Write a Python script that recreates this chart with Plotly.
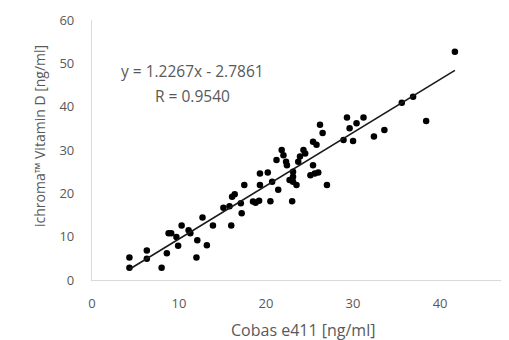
import plotly.graph_objects as go

cobas = [4.3, 4.3, 6.3, 6.3, 8.0, 8.6, 8.8, 9.1, 9.7, 9.9, 10.3, 11.1, 11.3, 12.0, 12.1, 12.7,
         13.2, 13.9, 15.1, 15.8, 16.0, 16.1, 16.4, 17.1, 17.2, 17.5, 18.5, 18.8, 19.2, 19.3,
         19.3, 20.2, 20.5, 20.7, 21.2, 21.4, 21.8, 22.0, 22.3, 22.4, 22.7, 23.0, 23.1, 23.1,
         23.1, 23.5, 23.7, 23.9, 24.3, 24.5, 25.1, 25.4, 25.4, 25.6, 25.8, 26.0, 26.2, 26.5,
         27.0, 28.9, 29.3, 29.6, 30.0, 30.4, 31.2, 32.4, 33.6, 35.6, 36.9, 38.4, 41.7]
ichroma = [5.2, 2.8, 6.8, 4.9, 2.8, 6.2, 10.8, 10.8, 9.9, 7.9, 12.6, 11.5, 10.8, 5.2, 9.2, 14.4,
           8.0, 12.6, 16.7, 17.0, 12.6, 19.2, 19.8, 17.7, 15.4, 21.9, 18.1, 17.8, 18.3, 21.9,
           24.6, 24.8, 18.2, 22.7, 27.7, 20.8, 30.0, 28.8, 27.3, 26.5, 23.1, 18.2, 25.0, 23.8,
           22.7, 21.9, 27.3, 28.5, 30.0, 29.2, 24.2, 31.9, 26.5, 24.6, 31.2, 24.8, 35.8, 33.9,
           21.9, 32.3, 37.5, 35.0, 32.1, 36.2, 37.5, 33.1, 34.6, 40.9, 42.3, 36.7, 52.7]

slope = 1.2267
intercept = -2.7861
fit_x = [min(cobas), max(cobas)]
fit_y = [slope * v + intercept for v in fit_x]

eq_text = "y = 1.2267x - 2.7861"
r_text = "R = 0.9540"
x_title = "Cobas e411 [ng/ml]"
y_title = "ichroma\u2122 Vitamin D [ng/ml]"

FONT = "Open Sans, sans-serif"
GRAY = "#595959"

fig = go.Figure()
fig.add_trace(go.Scatter(x=cobas, y=ichroma, mode="markers",
                         marker=dict(color="black", size=6.5), showlegend=False))
fig.add_trace(go.Scatter(x=fit_x, y=fit_y, mode="lines",
                         line=dict(color="#1a1a1a", width=1.6), showlegend=False))

fig.add_annotation(x=11.6, y=48.3, xref="x", yref="y", text=eq_text, showarrow=False,
                   font=dict(family=FONT, size=15.5, color=GRAY))
fig.add_annotation(x=11.5, y=42.5, xref="x", yref="y", text=r_text, showarrow=False,
                   font=dict(family=FONT, size=15.5, color=GRAY))
fig.add_annotation(x=0.516, y=-0.192, xref="paper", yref="paper", text=x_title,
                   showarrow=False, xanchor="center", yanchor="middle",
                   font=dict(family=FONT, size=16, color=GRAY))
fig.add_annotation(x=-0.127, y=0.554, xref="paper", yref="paper", text=y_title,
                   showarrow=False, textangle=-90, xanchor="center", yanchor="middle",
                   font=dict(family=FONT, size=14, color=GRAY))

fig.update_layout(
    width=509, height=340,
    margin=dict(l=84, r=16, t=12, b=68),
    paper_bgcolor="white", plot_bgcolor="white",
    font=dict(family=FONT, size=13, color=GRAY),
    xaxis=dict(range=[0, 47], tickvals=[0, 10, 20, 30, 40], showgrid=False, zeroline=False,
               showline=True, linecolor="#d9d9d9", linewidth=1.2, ticks="", automargin=False,
               ticklabelstandoff=11),
    yaxis=dict(range=[0, 60], tickvals=[0, 10, 20, 30, 40, 50, 60], showgrid=False,
               zeroline=False, showline=True, linecolor="#d9d9d9", linewidth=1.2, ticks="",
               automargin=False, ticklabelstandoff=14),
)

fig.write_html("out.html")
